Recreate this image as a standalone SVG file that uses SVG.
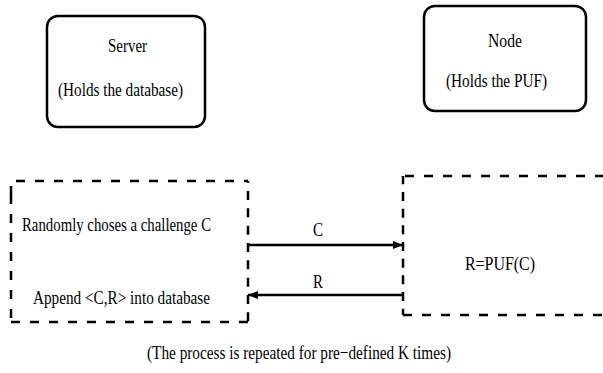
<svg xmlns="http://www.w3.org/2000/svg" width="603" height="373" viewBox="0 0 603 373">
  <style>
    text { font-family: "Liberation Serif", "DejaVu Serif", serif; font-size: 19px; fill: #000; }
    .box { fill: #fff; stroke: #000; stroke-width: 2.5; }
    .dash { fill: none; stroke: #000; stroke-width: 2.5; stroke-dasharray: 9 10; }
    .link { fill: none; stroke: #000; stroke-width: 2.5; }
  </style>
  <defs>
    <marker id="arrow" viewBox="0 0 10 8" refX="10" refY="4" markerWidth="10" markerHeight="8" markerUnits="userSpaceOnUse" orient="auto">
      <path d="M0,0 L10,4 L0,8 Z" fill="#000"/>
    </marker>
  </defs>
  <rect width="603" height="373" fill="#fff"/>

  <!-- Server -->
  <g id="server">
    <rect class="box" x="47" y="16" width="158" height="111" rx="11"/>
    <text x="108" y="52" textLength="39" lengthAdjust="spacingAndGlyphs">Server</text>
    <text x="58" y="96" textLength="125" lengthAdjust="spacingAndGlyphs">(Holds the database)</text>
  </g>

  <!-- Node -->
  <g id="node">
    <rect class="box" x="424" y="6" width="162" height="105" rx="11"/>
    <text x="488" y="47" textLength="34" lengthAdjust="spacingAndGlyphs">Node</text>
    <text x="446" y="87" textLength="101" lengthAdjust="spacingAndGlyphs">(Holds the PUF)</text>
  </g>

  <!-- Server-side steps (dashed frame) -->
  <g id="server-steps">
    <path class="dash" d="M11,195 L11,181 L248,181"/>
    <line class="dash" x1="11" y1="195" x2="11" y2="322"/>
    <line class="dash" x1="11" y1="322" x2="248" y2="322"/>
    <line class="dash" x1="248" y1="181" x2="248" y2="322" style="stroke-dashoffset:7.33;stroke-dasharray:9 8.33"/>
    <text x="22" y="231" textLength="189" lengthAdjust="spacingAndGlyphs">Randomly choses a challenge C</text>
    <text x="33" y="304" textLength="177" lengthAdjust="spacingAndGlyphs">Append &lt;C,R&gt; into database</text>
  </g>

  <!-- Node-side step (dashed frame, open to the right) -->
  <g id="node-steps">
    <line class="dash" x1="405" y1="176" x2="603" y2="176"/>
    <line class="dash" x1="403" y1="176" x2="403" y2="315" style="stroke-dashoffset:0.67;stroke-dasharray:9 7.67"/>
    <line class="dash" x1="403" y1="315" x2="603" y2="315"/>
    <text x="465" y="270" textLength="70" lengthAdjust="spacingAndGlyphs">R=PUF(C)</text>
  </g>

  <!-- Challenge / response connectors -->
  <g id="connectors">
    <line class="link" x1="248" y1="245" x2="403" y2="245" marker-end="url(#arrow)"/>
    <text x="313" y="236" textLength="10" lengthAdjust="spacingAndGlyphs">C</text>
    <line class="link" x1="403" y1="295" x2="248" y2="295" marker-end="url(#arrow)"/>
    <text x="313" y="288" textLength="10" lengthAdjust="spacingAndGlyphs">R</text>
  </g>

  <text x="147" y="359" textLength="304" lengthAdjust="spacingAndGlyphs">(The process is repeated for pre−defined K times)</text>
</svg>
